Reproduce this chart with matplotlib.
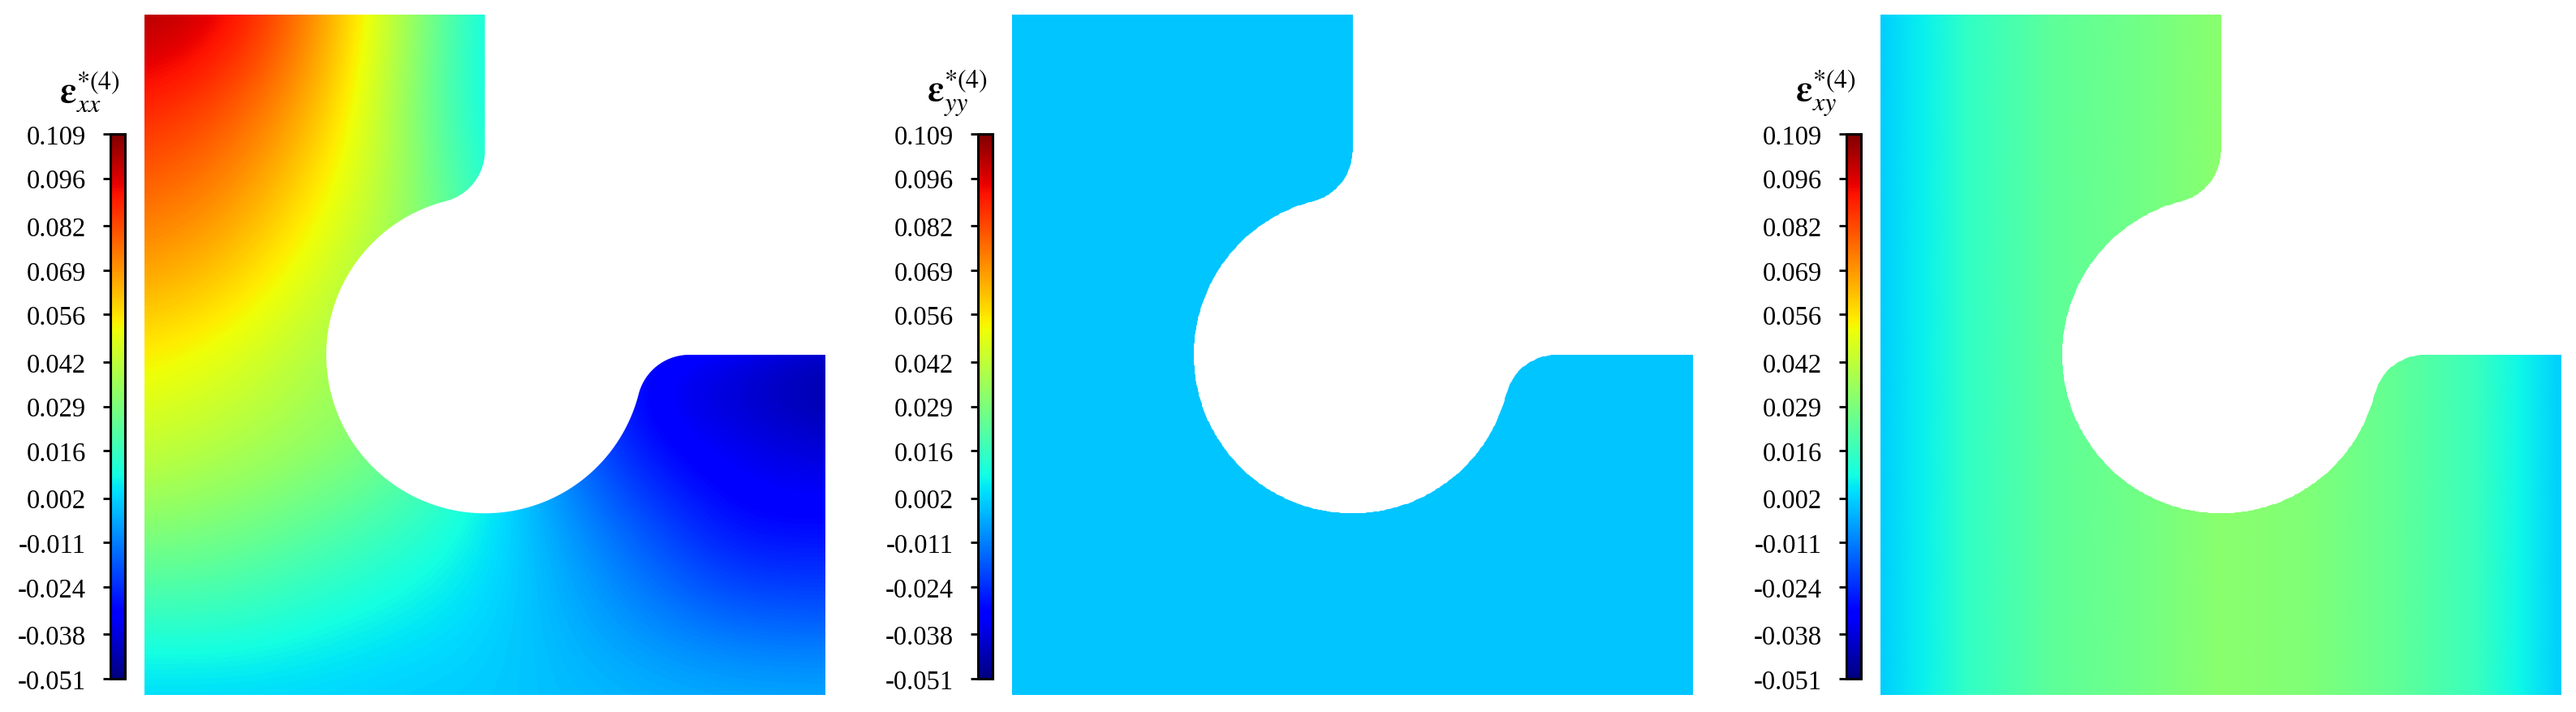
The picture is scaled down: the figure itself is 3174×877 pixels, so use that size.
import numpy as np
import matplotlib as mpl
import matplotlib.pyplot as plt
from matplotlib.path import Path
from matplotlib.patches import PathPatch

plt.rcParams['font.family'] = ['Liberation Serif', 'DejaVu Serif']
plt.rcParams['mathtext.fontset'] = 'stix'

# colour scale shared by the three panels
vmin, vmax = -0.051, 0.109
tick_vals = [0.109, 0.096, 0.082, 0.069, 0.056, 0.042, 0.029, 0.016, 0.002,
             -0.011, -0.024, -0.038, -0.051]
tick_labels = ["0.109", "0.096", "0.082", "0.069", "0.056", "0.042", "0.029",
               "0.016", "0.002", "-0.011", "-0.024", "-0.038", "-0.051"]

titles = [r'$\boldsymbol{\varepsilon}_{xx}^{*(4)}$',
          r'$\boldsymbol{\varepsilon}_{yy}^{*(4)}$',
          r'$\boldsymbol{\varepsilon}_{xy}^{*(4)}$']

# sample points of the unit cell (x to the right, y upwards), step 0.125
grid_x = [0, 0.125, 0.25, 0.375, 0.5, 0.625, 0.75, 0.875, 1.0]
grid_y = [0, 0.125, 0.25, 0.375, 0.5, 0.625, 0.75, 0.875, 1.0]

# eps_xx, rows from y=0 (bottom) to y=1 (top)
eps_xx = [
    [0.002, 0.002, 0.002, 0.001, 0.001, -0.001, -0.002, -0.003, -0.003],
    [0.016, 0.016, 0.011, 0.007, 0.003, -0.003, -0.011, -0.017, -0.018],
    [0.032, 0.029, 0.023, 0.016, 0.007, -0.007, -0.019, -0.031, -0.030],
    [0.045, 0.040, 0.035, 0.028, 0.010, -0.015, -0.032, -0.036, -0.040],
    [0.054, 0.049, 0.039, 0.033, 0.015, -0.020, -0.036, -0.043, -0.051],
    [0.068, 0.061, 0.048, 0.034, 0.018, 0.000, 0.000, 0.000, 0.000],
    [0.079, 0.072, 0.056, 0.038, 0.010, 0.000, 0.000, 0.000, 0.000],
    [0.090, 0.082, 0.065, 0.037, 0.005, 0.000, 0.000, 0.000, 0.000],
    [0.104, 0.096, 0.072, 0.040, 0.006, 0.000, 0.000, 0.000, 0.000],
]

# eps_yy is uniform
eps_yy_value = 0.0

# eps_xy only changes along x
xy_x = [0, 0.0625, 0.125, 0.25, 0.375, 0.5, 0.625, 0.75, 0.875, 0.9375, 1.0]
eps_xy = [0.001, 0.007, 0.014, 0.023, 0.027, 0.032, 0.030, 0.024, 0.016, 0.008, 0.001]


def cell_path(R=0.233, a=0.3):
    # square minus upper right quarter, round hole in the middle, filleted corners
    r = (a * a - R * R) / (2 * R)
    verts = [(0, 0), (1, 0), (1, 0.5), (0.5 + a, 0.5)]
    th = np.linspace(np.pi / 2, np.arctan2(r, -a), 30)
    verts += list(zip(0.5 + a + r * np.cos(th), 0.5 - r + r * np.sin(th)))
    p0 = np.arctan2(-r, a)
    ph = np.linspace(p0, np.pi / 2 - p0 - 2 * np.pi, 300)
    verts += list(zip(0.5 + R * np.cos(ph), 0.5 + R * np.sin(ph)))
    th = np.linspace(np.arctan2(-a, r), 0, 30)
    verts += list(zip(0.5 - r + r * np.cos(th), 0.5 + a + r * np.sin(th)))
    verts += [(0.5, 1), (0, 1), (0, 0)]
    codes = [Path.MOVETO] + [Path.LINETO] * (len(verts) - 2) + [Path.CLOSEPOLY]
    return Path(verts, codes)


W, H = 3174, 878
fig = plt.figure(figsize=(W / 100, H / 100), dpi=100)
cmap = plt.get_cmap('jet')
norm = mpl.colors.Normalize(vmin=vmin, vmax=vmax)

panel_left = [178, 1247, 2317]
for i in range(3):
    x0 = panel_left[i]
    ax = fig.add_axes([x0 / W, 21 / H, 839 / W, 838 / H])
    if i == 0:
        h = 0.5 * (grid_x[1] - grid_x[0])
        art = ax.imshow(np.array(eps_xx), origin='lower', cmap=cmap, norm=norm,
                        interpolation='bicubic', aspect='auto',
                        extent=[grid_x[0] - h, grid_x[-1] + h,
                                grid_y[0] - h, grid_y[-1] + h])
    elif i == 1:
        X, Y = np.meshgrid(grid_x, grid_y)
        art = ax.pcolormesh(X, Y, np.full(X.shape, eps_yy_value),
                            shading='gouraud', cmap=cmap, norm=norm)
    else:
        X, Y = np.meshgrid(xy_x, grid_y)
        art = ax.pcolormesh(X, Y, np.tile(eps_xy, (len(grid_y), 1)),
                            shading='gouraud', cmap=cmap, norm=norm)
    patch = PathPatch(cell_path(), transform=ax.transData,
                      facecolor='none', edgecolor='none')
    ax.add_patch(patch)
    art.set_clip_path(patch)
    ax.set_xlim(0, 1)
    ax.set_ylim(0, 1)
    ax.axis('off')

    cax = fig.add_axes([(x0 - 42) / W, 41 / H, 18 / W, 671 / H])
    cb = fig.colorbar(mpl.cm.ScalarMappable(norm=norm, cmap=cmap), cax=cax,
                      ticks=tick_vals)
    cb.ax.set_yticklabels(tick_labels)
    cb.ax.yaxis.set_ticks_position('left')
    cb.outline.set_linewidth(2.2)
    cb.ax.tick_params(length=6.5, width=2.0, pad=15, labelsize=23.5)

    fig.text((x0 - 68) / W, 1 - 126 / H, titles[i], ha='center',
             va='baseline', fontsize=33)

fig.savefig('out.png', dpi=100)
